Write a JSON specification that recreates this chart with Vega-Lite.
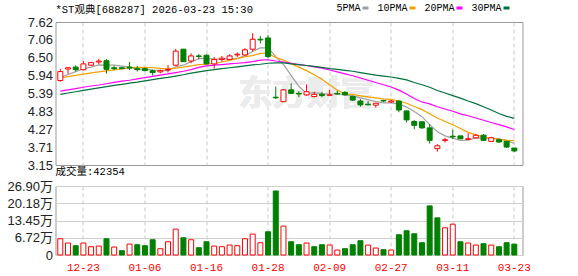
{
  "$schema": "https://vega.github.io/schema/vega-lite/v6.json",
  "background": "white",
  "padding": {"left": 5.5, "top": 3, "right": 5, "bottom": 2},
  "bounds": "flush",
  "spacing": 21,
  "config": {
    "view": {"stroke": "#999999", "strokeWidth": 1},
    "title": {"font": "Liberation Mono, Noto Sans CJK SC", "fontSize": 10.5, "fontWeight": "normal", "color": "#000000", "anchor": "start", "baseline": "bottom", "frame": "group"}
  },
  "data": {"values": [
    {"d":"2025-12-18","o":5.79,"c":6.07,"h":6.15,"l":5.75,"vol":63300,"vd":"up","5PMA":5.88,"10PMA":5.87,"20PMA":5.46,"30PMA":5.36},
    {"d":"2025-12-19","o":6.15,"c":6.19,"h":6.20,"l":6.00,"vol":46600,"vd":"up","5PMA":5.98,"10PMA":5.91,"20PMA":5.50,"30PMA":5.40},
    {"d":"2025-12-22","o":6.21,"c":6.13,"h":6.27,"l":6.08,"vol":36200,"vd":"down","5PMA":6.07,"10PMA":5.95,"20PMA":5.54,"30PMA":5.44},
    {"d":"2025-12-23","o":6.13,"c":6.31,"h":6.40,"l":6.10,"vol":46600,"vd":"up","5PMA":6.16,"10PMA":5.99,"20PMA":5.58,"30PMA":5.48},
    {"d":"2025-12-24","o":6.27,"c":6.35,"h":6.38,"l":6.25,"vol":32300,"vd":"up","5PMA":6.21,"10PMA":6.03,"20PMA":5.62,"30PMA":5.52},
    {"d":"2025-12-25","o":6.37,"c":6.40,"h":6.47,"l":6.30,"vol":34900,"vd":"up","5PMA":6.28,"10PMA":6.06,"20PMA":5.65,"30PMA":5.56},
    {"d":"2025-12-26","o":6.41,"c":6.14,"h":6.46,"l":6.01,"vol":63300,"vd":"down","5PMA":6.27,"10PMA":6.09,"20PMA":5.69,"30PMA":5.60},
    {"d":"2025-12-29","o":6.19,"c":6.16,"h":6.25,"l":6.11,"vol":31000,"vd":"up","5PMA":6.27,"10PMA":6.12,"20PMA":5.73,"30PMA":5.64},
    {"d":"2025-12-30","o":6.19,"c":6.16,"h":6.21,"l":6.15,"vol":16800,"vd":"down","5PMA":6.24,"10PMA":6.15,"20PMA":5.77,"30PMA":5.67},
    {"d":"2025-12-31","o":6.21,"c":6.18,"h":6.37,"l":6.12,"vol":42700,"vd":"up","5PMA":6.21,"10PMA":6.19,"20PMA":5.80,"30PMA":5.71},
    {"d":"2026-01-05","o":6.16,"c":6.13,"h":6.25,"l":6.07,"vol":40100,"vd":"down","5PMA":6.15,"10PMA":6.20,"20PMA":5.84,"30PMA":5.74},
    {"d":"2026-01-06","o":6.16,"c":6.10,"h":6.19,"l":6.08,"vol":36200,"vd":"down","5PMA":6.15,"10PMA":6.20,"20PMA":5.88,"30PMA":5.78},
    {"d":"2026-01-07","o":6.10,"c":6.04,"h":6.13,"l":5.95,"vol":59500,"vd":"down","5PMA":6.12,"10PMA":6.19,"20PMA":5.92,"30PMA":5.82},
    {"d":"2026-01-08","o":6.06,"c":6.10,"h":6.13,"l":6.02,"vol":24600,"vd":"up","5PMA":6.11,"10PMA":6.17,"20PMA":5.96,"30PMA":5.86},
    {"d":"2026-01-09","o":6.12,"c":6.14,"h":6.27,"l":6.04,"vol":51700,"vd":"up","5PMA":6.10,"10PMA":6.15,"20PMA":6.00,"30PMA":5.89},
    {"d":"2026-01-12","o":6.27,"c":6.71,"h":6.78,"l":6.25,"vol":100900,"vd":"up","5PMA":6.22,"10PMA":6.18,"20PMA":6.04,"30PMA":5.93},
    {"d":"2026-01-13","o":6.77,"c":6.38,"h":6.78,"l":6.37,"vol":67200,"vd":"down","5PMA":6.27,"10PMA":6.21,"20PMA":6.08,"30PMA":5.97},
    {"d":"2026-01-14","o":6.40,"c":6.56,"h":6.64,"l":6.33,"vol":59500,"vd":"up","5PMA":6.38,"10PMA":6.25,"20PMA":6.13,"30PMA":6.02},
    {"d":"2026-01-15","o":6.56,"c":6.54,"h":6.62,"l":6.46,"vol":28500,"vd":"down","5PMA":6.47,"10PMA":6.29,"20PMA":6.20,"30PMA":6.06},
    {"d":"2026-01-16","o":6.58,"c":6.31,"h":6.61,"l":6.30,"vol":51700,"vd":"down","5PMA":6.50,"10PMA":6.30,"20PMA":6.25,"30PMA":6.10},
    {"d":"2026-01-19","o":6.31,"c":6.45,"h":6.52,"l":6.16,"vol":34900,"vd":"up","5PMA":6.45,"10PMA":6.33,"20PMA":6.27,"30PMA":6.13},
    {"d":"2026-01-20","o":6.45,"c":6.49,"h":6.56,"l":6.38,"vol":32300,"vd":"up","5PMA":6.47,"10PMA":6.37,"20PMA":6.29,"30PMA":6.16},
    {"d":"2026-01-21","o":6.45,"c":6.56,"h":6.61,"l":6.43,"vol":38800,"vd":"up","5PMA":6.47,"10PMA":6.42,"20PMA":6.31,"30PMA":6.19},
    {"d":"2026-01-22","o":6.59,"c":6.61,"h":6.67,"l":6.52,"vol":36200,"vd":"up","5PMA":6.48,"10PMA":6.47,"20PMA":6.33,"30PMA":6.22},
    {"d":"2026-01-23","o":6.59,"c":6.75,"h":6.80,"l":6.56,"vol":63300,"vd":"up","5PMA":6.57,"10PMA":6.54,"20PMA":6.35,"30PMA":6.25},
    {"d":"2026-01-26","o":6.77,"c":7.08,"h":7.27,"l":6.70,"vol":81500,"vd":"up","5PMA":6.70,"10PMA":6.57,"20PMA":6.38,"30PMA":6.28},
    {"d":"2026-01-27","o":7.08,"c":7.06,"h":7.18,"l":6.95,"vol":47900,"vd":"up","5PMA":6.81,"10PMA":6.64,"20PMA":6.43,"30PMA":6.30},
    {"d":"2026-01-28","o":7.12,"c":6.54,"h":7.21,"l":6.49,"vol":90600,"vd":"down","5PMA":6.81,"10PMA":6.64,"20PMA":6.44,"30PMA":6.33},
    {"d":"2026-01-29","o":5.27,"c":5.25,"h":5.60,"l":5.21,"vol":249600,"vd":"down","5PMA":6.54,"10PMA":6.51,"20PMA":6.40,"30PMA":6.34},
    {"d":"2026-01-30","o":5.13,"c":5.50,"h":5.52,"l":5.13,"vol":112600,"vd":"up","5PMA":6.29,"10PMA":6.43,"20PMA":6.37,"30PMA":6.34},
    {"d":"2026-02-02","o":5.50,"c":5.39,"h":5.70,"l":5.37,"vol":51700,"vd":"down","5PMA":5.95,"10PMA":6.32,"20PMA":6.33,"30PMA":6.31},
    {"d":"2026-02-03","o":5.39,"c":5.37,"h":5.46,"l":5.27,"vol":40100,"vd":"down","5PMA":5.61,"10PMA":6.21,"20PMA":6.29,"30PMA":6.29},
    {"d":"2026-02-04","o":5.34,"c":5.44,"h":5.67,"l":5.31,"vol":46600,"vd":"up","5PMA":5.39,"10PMA":6.10,"20PMA":6.26,"30PMA":6.26},
    {"d":"2026-02-05","o":5.29,"c":5.36,"h":5.44,"l":5.26,"vol":32300,"vd":"down","5PMA":5.41,"10PMA":5.97,"20PMA":6.22,"30PMA":6.23},
    {"d":"2026-02-06","o":5.36,"c":5.32,"h":5.44,"l":5.27,"vol":40100,"vd":"down","5PMA":5.38,"10PMA":5.83,"20PMA":6.18,"30PMA":6.20},
    {"d":"2026-02-09","o":5.33,"c":5.34,"h":5.50,"l":5.33,"vol":38800,"vd":"up","5PMA":5.37,"10PMA":5.66,"20PMA":6.12,"30PMA":6.16},
    {"d":"2026-02-10","o":5.39,"c":5.37,"h":5.47,"l":5.34,"vol":19400,"vd":"up","5PMA":5.37,"10PMA":5.49,"20PMA":6.06,"30PMA":6.14},
    {"d":"2026-02-11","o":5.42,"c":5.34,"h":5.46,"l":5.32,"vol":24600,"vd":"down","5PMA":5.35,"10PMA":5.37,"20PMA":6.00,"30PMA":6.11},
    {"d":"2026-02-12","o":5.29,"c":5.18,"h":5.32,"l":5.15,"vol":40100,"vd":"down","5PMA":5.31,"10PMA":5.36,"20PMA":5.94,"30PMA":6.08},
    {"d":"2026-02-13","o":5.15,"c":5.03,"h":5.21,"l":4.97,"vol":55600,"vd":"down","5PMA":5.25,"10PMA":5.31,"20PMA":5.87,"30PMA":6.04},
    {"d":"2026-02-24","o":5.05,"c":5.03,"h":5.15,"l":5.02,"vol":38800,"vd":"up","5PMA":5.19,"10PMA":5.28,"20PMA":5.80,"30PMA":6.00},
    {"d":"2026-02-25","o":5.02,"c":5.08,"h":5.08,"l":4.94,"vol":27200,"vd":"up","5PMA":5.13,"10PMA":5.25,"20PMA":5.73,"30PMA":5.96},
    {"d":"2026-02-26","o":5.17,"c":5.15,"h":5.18,"l":5.12,"vol":20700,"vd":"down","5PMA":5.09,"10PMA":5.22,"20PMA":5.66,"30PMA":5.93},
    {"d":"2026-02-27","o":5.12,"c":5.15,"h":5.18,"l":5.10,"vol":19400,"vd":"up","5PMA":5.09,"10PMA":5.20,"20PMA":5.59,"30PMA":5.90},
    {"d":"2026-03-02","o":5.15,"c":4.87,"h":5.17,"l":4.80,"vol":78900,"vd":"down","5PMA":5.06,"10PMA":5.15,"20PMA":5.49,"30PMA":5.86},
    {"d":"2026-03-03","o":4.84,"c":4.56,"h":4.86,"l":4.48,"vol":94500,"vd":"down","5PMA":4.96,"10PMA":5.08,"20PMA":5.37,"30PMA":5.81},
    {"d":"2026-03-04","o":4.51,"c":4.39,"h":4.56,"l":4.27,"vol":82800,"vd":"down","5PMA":4.82,"10PMA":4.98,"20PMA":5.23,"30PMA":5.73},
    {"d":"2026-03-05","o":4.50,"c":4.31,"h":4.52,"l":4.28,"vol":47900,"vd":"down","5PMA":4.66,"10PMA":4.88,"20PMA":5.12,"30PMA":5.66},
    {"d":"2026-03-06","o":4.31,"c":3.92,"h":4.43,"l":3.82,"vol":191400,"vd":"down","5PMA":4.41,"10PMA":4.75,"20PMA":5.06,"30PMA":5.58},
    {"d":"2026-03-09","o":3.66,"c":3.75,"h":3.80,"l":3.57,"vol":144800,"vd":"down","5PMA":4.19,"10PMA":4.62,"20PMA":4.97,"30PMA":5.48},
    {"d":"2026-03-10","o":3.92,"c":3.94,"h":4.00,"l":3.85,"vol":106100,"vd":"up","5PMA":4.06,"10PMA":4.51,"20PMA":4.90,"30PMA":5.40},
    {"d":"2026-03-11","o":4.05,"c":4.03,"h":4.25,"l":3.96,"vol":120300,"vd":"up","5PMA":3.99,"10PMA":4.41,"20PMA":4.83,"30PMA":5.32},
    {"d":"2026-03-12","o":4.06,"c":3.97,"h":4.06,"l":3.96,"vol":51700,"vd":"down","5PMA":3.92,"10PMA":4.29,"20PMA":4.75,"30PMA":5.24},
    {"d":"2026-03-13","o":3.95,"c":3.97,"h":4.14,"l":3.95,"vol":46600,"vd":"up","5PMA":3.93,"10PMA":4.17,"20PMA":4.69,"30PMA":5.15},
    {"d":"2026-03-16","o":4.00,"c":4.08,"h":4.12,"l":3.98,"vol":38800,"vd":"up","5PMA":4.00,"10PMA":4.09,"20PMA":4.62,"30PMA":5.07},
    {"d":"2026-03-17","o":4.08,"c":3.92,"h":4.12,"l":3.90,"vol":44000,"vd":"down","5PMA":3.99,"10PMA":4.03,"20PMA":4.55,"30PMA":4.97},
    {"d":"2026-03-18","o":3.89,"c":4.00,"h":4.03,"l":3.89,"vol":38800,"vd":"up","5PMA":3.99,"10PMA":3.99,"20PMA":4.48,"30PMA":4.87},
    {"d":"2026-03-19","o":3.94,"c":3.87,"h":3.97,"l":3.84,"vol":32300,"vd":"down","5PMA":3.97,"10PMA":3.95,"20PMA":4.41,"30PMA":4.76},
    {"d":"2026-03-20","o":3.89,"c":3.71,"h":3.89,"l":3.69,"vol":47900,"vd":"down","5PMA":3.92,"10PMA":3.92,"20PMA":4.34,"30PMA":4.67},
    {"d":"2026-03-23","o":3.68,"c":3.59,"h":3.68,"l":3.55,"vol":42354,"vd":"down","5PMA":3.82,"10PMA":3.91,"20PMA":4.26,"30PMA":4.61}
  ]},
  "vconcat": [
    {
      "width": 467,
      "height": 143,
      "title": {"text": "*ST观典[688287] 2026-03-23 15:30", "offset": 1},
      "encoding": {
        "x": {
          "field": "d", "type": "ordinal",
          "scale": {"paddingInner": 0, "paddingOuter": 0.344, "align": 0.18},
          "axis": {"values": ["2025-12-23","2026-01-06","2026-01-16","2026-01-28","2026-02-09","2026-02-27","2026-03-11","2026-03-23"], "labels": false, "ticks": false, "domain": false, "title": null, "grid": true, "gridDash": [4,3], "gridColor": "#c8c8c8", "gridWidth": 1}
        }
      },
      "layer": [
        {
          "mark": {"type": "text", "text": "东方财富", "font": "Noto Sans CJK SC", "fontSize": 34, "fontWeight": "bold", "color": "#ececec", "align": "center", "baseline": "middle"},
          "encoding": {
            "x": {"datum": "2026-02-04", "type": "ordinal"},
            "y": {"datum": 5.34, "type": "quantitative", "scale": {"domain": [3.15, 7.62], "nice": false, "zero": false},
              "axis": {"values": [3.15,3.71,4.27,4.83,5.39,5.94,6.50,7.06,7.62], "format": ".2f", "labelOverlap": false, "title": null, "ticks": false, "domain": false, "labelFont": "Liberation Sans", "labelFontSize": 13, "labelColor": "#222222", "labelPadding": 3, "gridColor": "#d0d0d0", "gridWidth": 1}}
          }
        },
        {
          "transform": [{"fold": ["5PMA","10PMA","20PMA","30PMA"], "as": ["ma","val"]}],
          "mark": {"type": "line", "strokeWidth": 1.2},
          "encoding": {
            "y": {
              "field": "val", "type": "quantitative",
              "scale": {"domain": [3.15, 7.62], "nice": false, "zero": false},
              "axis": {"values": [3.15,3.71,4.27,4.83,5.39,5.94,6.50,7.06,7.62], "format": ".2f", "labelOverlap": false, "title": null, "ticks": false, "domain": false, "labelFont": "Liberation Sans", "labelFontSize": 13, "labelColor": "#222222", "labelPadding": 3, "gridColor": "#d0d0d0", "gridWidth": 1}
            },
            "color": {
              "field": "ma", "type": "nominal",
              "scale": {"domain": ["5PMA","10PMA","20PMA","30PMA"], "range": ["#a0a0a0","#f5a000","#ff00ff","#00703c"]},
              "legend": {"orient": "none", "legendX": 305, "legendY": -19, "direction": "horizontal", "title": null, "symbolType": "stroke", "symbolSize": 36, "symbolStrokeWidth": 3, "labelAlign": "right", "labelOffset": -10, "labelFont": "Liberation Mono", "labelFontSize": 10, "labelColor": "#000000", "columnPadding": 2}
            }
          }
        },
        {
          "mark": {"type": "rule", "strokeWidth": 1},
          "encoding": {
            "y": {"field": "l", "type": "quantitative",
              "axis": {"values": [3.15,3.71,4.27,4.83,5.39,5.94,6.50,7.06,7.62], "format": ".2f", "labelOverlap": false, "title": null, "ticks": false, "domain": false, "labelFont": "Liberation Sans", "labelFontSize": 13, "labelColor": "#222222", "labelPadding": 3, "gridColor": "#d0d0d0", "gridWidth": 1}},
            "y2": {"field": "h"},
            "color": {"condition": {"test": "datum.c >= datum.o", "value": "#ff0000"}, "value": "#008000"}
          }
        },
        {
          "mark": {"type": "bar", "size": 5, "strokeWidth": 1},
          "encoding": {
            "y": {"field": "o", "type": "quantitative",
              "axis": {"values": [3.15,3.71,4.27,4.83,5.39,5.94,6.50,7.06,7.62], "format": ".2f", "labelOverlap": false, "title": null, "ticks": false, "domain": false, "labelFont": "Liberation Sans", "labelFontSize": 13, "labelColor": "#222222", "labelPadding": 3, "gridColor": "#d0d0d0", "gridWidth": 1}},
            "y2": {"field": "c"},
            "fill": {"condition": {"test": "datum.c >= datum.o", "value": "#ffffff"}, "value": "#008000"},
            "stroke": {"condition": {"test": "datum.c >= datum.o", "value": "#ff0000"}, "value": "#008000"}
          }
        }
      ]
    },
    {
      "width": 467,
      "height": 69,
      "title": {"text": "成交量:42354", "offset": 3},
      "mark": {"type": "bar", "size": 5, "strokeWidth": 1},
      "encoding": {
        "x": {
          "field": "d", "type": "ordinal",
          "scale": {"paddingInner": 0, "paddingOuter": 0.344, "align": 0.18},
          "axis": {"values": ["2025-12-23","2026-01-06","2026-01-16","2026-01-28","2026-02-09","2026-02-27","2026-03-11","2026-03-23"], "labelExpr": "substring(datum.value, 5)", "labelAngle": 0, "labelOverlap": false, "labelColor": "#ff0000", "labelFont": "Liberation Mono", "labelFontSize": 11, "labelPadding": 6, "ticks": false, "domain": false, "title": null, "grid": true, "gridDash": [4,3], "gridColor": "#c8c8c8", "gridWidth": 1}
        },
        "y": {
          "field": "vol", "type": "quantitative",
          "scale": {"domain": [0, 269000], "nice": false},
          "axis": {"values": [0, 67250, 134500, 201750, 269000], "labelOverlap": false, "labelExpr": "datum.value == 0 ? '0' : format(datum.value / 10000, '.2f') + '万'", "title": null, "ticks": false, "domain": false, "labelFont": "Liberation Sans, Noto Sans CJK SC", "labelFontSize": 13, "labelColor": "#222222", "labelPadding": 3, "gridColor": "#d0d0d0", "gridWidth": 1}
        },
        "fill": {"condition": {"test": "datum.vd == 'up'", "value": "#ffffff"}, "value": "#008000"},
        "stroke": {"condition": {"test": "datum.vd == 'up'", "value": "#ff0000"}, "value": "#008000"}
      }
    }
  ]
}
